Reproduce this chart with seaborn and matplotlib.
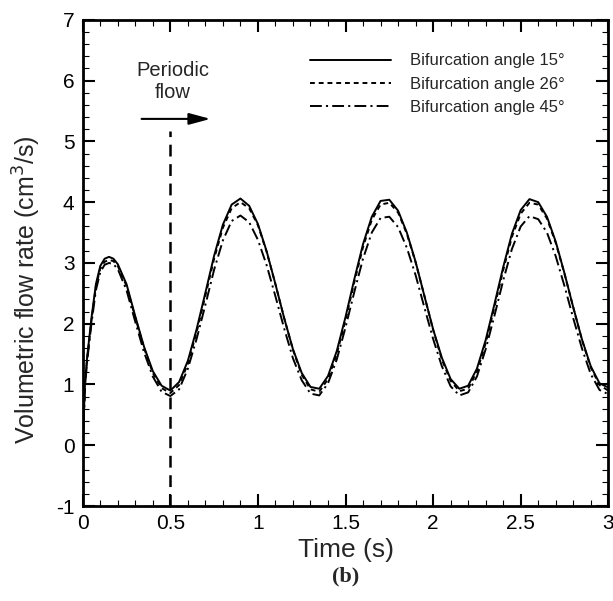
import numpy as np
import pandas as pd
import seaborn as sns
import matplotlib
matplotlib.use("Agg")
import matplotlib.pyplot as plt

# ---- data ----
time_s = [0.0, 0.0125, 0.025, 0.05, 0.075, 0.1, 0.125, 0.15, 0.175, 0.2,
          0.25, 0.3, 0.35, 0.4, 0.45, 0.5, 0.55, 0.6, 0.65, 0.7, 0.75, 0.8, 0.85, 0.9, 0.95,
          1.0, 1.05, 1.1, 1.15, 1.2, 1.25, 1.3, 1.35, 1.4, 1.45, 1.5, 1.55, 1.6, 1.65, 1.7, 1.75,
          1.8, 1.85, 1.9, 1.95, 2.0, 2.05, 2.1, 2.15, 2.2, 2.25, 2.3, 2.35, 2.4, 2.45, 2.5, 2.55,
          2.6, 2.65, 2.7, 2.75, 2.8, 2.85, 2.9, 2.95, 3.0]

flow_15 = [0.0, 1.0, 1.45, 2.10, 2.65, 2.95, 3.07, 3.10, 3.07, 2.98,
           2.65, 2.12, 1.62, 1.22, 0.98, 0.90, 1.04, 1.39, 1.91, 2.51, 3.12, 3.63, 3.96, 4.06, 3.94,
           3.64, 3.19, 2.65, 2.09, 1.58, 1.19, 0.96, 0.93, 1.14, 1.55, 2.11, 2.73, 3.31, 3.76, 4.02, 4.04,
           3.86, 3.50, 3.02, 2.46, 1.91, 1.44, 1.09, 0.93, 0.98, 1.26, 1.73, 2.32, 2.93, 3.48, 3.87, 4.05,
           4.00, 3.76, 3.35, 2.83, 2.27, 1.74, 1.30, 1.02, 0.95]

flow_26 = [0.0, 0.98, 1.42, 2.06, 2.61, 2.91, 3.02, 3.05, 3.03, 2.95,
           2.62, 2.10, 1.60, 1.19, 0.94, 0.86, 0.99, 1.34, 1.86, 2.46, 3.07, 3.58, 3.90, 4.00, 3.90,
           3.62, 3.18, 2.65, 2.09, 1.57, 1.16, 0.92, 0.88, 1.09, 1.50, 2.06, 2.68, 3.26, 3.71, 3.96, 3.99,
           3.83, 3.48, 3.01, 2.46, 1.90, 1.41, 1.06, 0.89, 0.93, 1.21, 1.68, 2.27, 2.88, 3.43, 3.81, 3.99,
           3.96, 3.73, 3.33, 2.82, 2.27, 1.73, 1.28, 0.99, 0.90]

flow_45 = [0.0, 0.95, 1.38, 2.01, 2.55, 2.85, 2.97, 3.00, 2.98, 2.90,
           2.55, 2.03, 1.53, 1.13, 0.88, 0.81, 0.92, 1.26, 1.75, 2.31, 2.89, 3.37, 3.69, 3.78, 3.67,
           3.38, 2.96, 2.45, 1.92, 1.43, 1.07, 0.85, 0.82, 1.02, 1.41, 1.94, 2.52, 3.07, 3.50, 3.74, 3.76,
           3.59, 3.25, 2.80, 2.27, 1.75, 1.30, 0.97, 0.82, 0.87, 1.13, 1.58, 2.13, 2.71, 3.23, 3.60, 3.77,
           3.72, 3.50, 3.11, 2.62, 2.09, 1.59, 1.17, 0.91, 0.84]

series_labels = ["Bifurcation angle 15°", "Bifurcation angle 26°", "Bifurcation angle 45°"]
x_ticks = [0, 0.5, 1, 1.5, 2, 2.5, 3]
x_tick_labels = ["0", "0.5", "1", "1.5", "2", "2.5", "3"]
y_ticks = [-1, 0, 1, 2, 3, 4, 5, 6, 7]
periodic_start = 0.5

df = pd.DataFrame({
    "time": time_s * 3,
    "flow": flow_15 + flow_26 + flow_45,
    "series": [series_labels[0]] * len(time_s) + [series_labels[1]] * len(time_s)
              + [series_labels[2]] * len(time_s),
})

sns.set_style("ticks")
plt.rcParams["font.family"] = ["Liberation Sans", "DejaVu Sans"]
plt.rcParams["lines.scale_dashes"] = False
plt.rcParams["axes.unicode_minus"] = False

fig = plt.figure(figsize=(6.13, 6.01), dpi=100)
ax = fig.add_axes([0.135, 0.158, 0.8573, 0.809])

dash_map = {series_labels[0]: "", series_labels[1]: (3.5, 2.8),
            series_labels[2]: (8.5, 3, 1.5, 3)}
sns.lineplot(data=df, x="time", y="flow", style="series", dashes=dash_map,
             color="black", linewidth=1.4, ax=ax, legend=True)

# vertical dashed marker of periodic start
ax.plot([periodic_start, periodic_start], [-1, 5.17], color="black", lw=1.8,
        linestyle=(0, (8.5, 5.5)))
ax.annotate("", xy=(0.745, 5.37), xytext=(0.32, 5.37),
            arrowprops=dict(arrowstyle="-|>,head_length=1.3,head_width=0.35",
                            color="black", lw=1.5))
ax.text(0.515, 6.17, "Periodic", ha="center", va="center", fontsize=14.5)
ax.text(0.515, 5.80, "flow", ha="center", va="center", fontsize=14.5)

ax.set_xlim(0, 3)
ax.set_ylim(-1, 7)
ax.set_xticks(x_ticks)
ax.set_xticklabels(x_tick_labels)
ax.set_yticks(y_ticks)
ax.set_xticks(np.arange(0, 3.01, 0.1), minor=True)
ax.set_yticks(np.arange(-1, 7.01, 0.2), minor=True)
ax.tick_params(which="both", direction="in", top=True, right=True, labelsize=15,
               colors="black")
ax.tick_params(which="major", length=8.5, width=1.5)
ax.tick_params(axis="x", which="major", pad=6)
ax.tick_params(axis="y", which="major", pad=6)
ax.tick_params(which="minor", length=4.5, width=0.8)
for sp in ax.spines.values():
    sp.set_linewidth(2.0)
    sp.set_color("black")

ax.set_xlabel("Time (s)", fontsize=19, labelpad=3)
ax.set_ylabel("Volumetric flow rate (cm$^3$/s)", fontsize=18)
ax.yaxis.set_label_coords(-0.076, 0.444)

leg = ax.legend(loc="upper left", bbox_to_anchor=(0.432, 0.931), frameon=False,
                fontsize=12, handlelength=4.9, handletextpad=1.1, labelspacing=0.5,
                borderpad=0, borderaxespad=0)
for line in leg.get_lines():
    line.set_linewidth(1.4)

fig.text(0.5635, 0.04, "(b)", ha="center", va="center", fontsize=16,
         fontweight="bold", family=["Liberation Serif", "DejaVu Serif"])

fig.savefig("out.png", dpi=100)
